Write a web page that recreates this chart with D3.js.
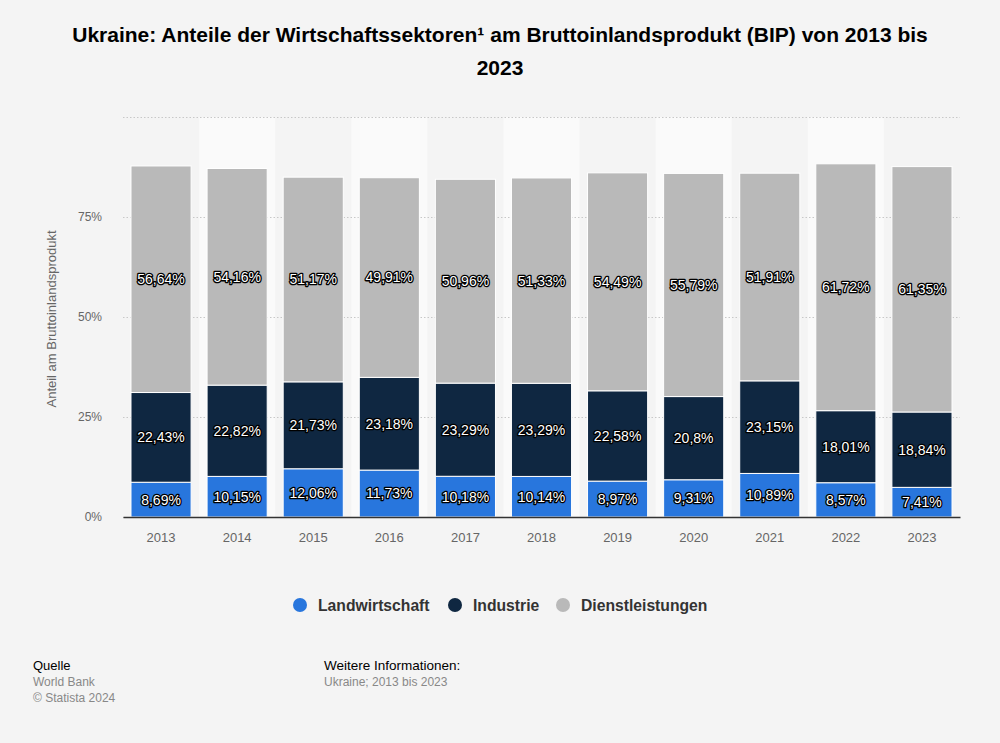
<!DOCTYPE html>
<html>
<head>
<meta charset="utf-8">
<script src="https://cdn.jsdelivr.net/npm/d3@7"></script>
<style>
  body { margin: 0; background: #f4f4f4; }
  svg { font-family: "Liberation Sans", Arial, sans-serif; display: block; }
  .lbl { fill: #fff; stroke: #000; stroke-width: 2.6px; paint-order: stroke; stroke-linejoin: round; font-size: 14px; }
</style>
</head>
<body>
<svg id="chart" width="1000" height="743"></svg>
<script>
// years and sector shares (percent of GDP)
var years = ["2013","2014","2015","2016","2017","2018","2019","2020","2021","2022","2023"];
var landwirtschaft = [8.69, 10.15, 12.06, 11.73, 10.18, 10.14, 8.97, 9.31, 10.89, 8.57, 7.41];
var industrie = [22.43, 22.82, 21.73, 23.18, 23.29, 23.29, 22.58, 20.8, 23.15, 18.01, 18.84];
var dienstleistungen = [56.64, 54.16, 51.17, 49.91, 50.96, 51.33, 54.49, 55.79, 51.91, 61.72, 61.35];
var seriesNames = ["Landwirtschaft", "Industrie", "Dienstleistungen"];
var seriesColors = ["#2876dd", "#0f2741", "#b9b9b9"];
var yTicks = [0, 25, 50, 75, 100];

var svg = d3.select("#chart");
var plotLeft = 123, plotRight = 960, plotTop = 117, plotBottom = 517;

// build rows for stacking
var rows = years.map(function(y, i){
	return { year: y, Landwirtschaft: landwirtschaft[i], Industrie: industrie[i], Dienstleistungen: dienstleistungen[i] };
});

var x = d3.scaleBand().domain(years).range([plotLeft, plotRight]).paddingInner(0.21).paddingOuter(0.105);
var xBand = d3.scaleBand().domain(years).range([plotLeft, plotRight]);
var y = d3.scaleLinear().domain([0, 100]).range([plotBottom, plotTop]);
var color = d3.scaleOrdinal().domain(seriesNames).range(seriesColors);

// title
svg.append("text").attr("x", 500).attr("y", 42).attr("text-anchor", "middle")
	.attr("font-size", 21).attr("font-weight", "bold").attr("fill", "#000")
	.text("Ukraine: Anteile der Wirtschaftssektoren¹ am Bruttoinlandsprodukt (BIP) von 2013 bis");
svg.append("text").attr("x", 500).attr("y", 75).attr("text-anchor", "middle")
	.attr("font-size", 21).attr("font-weight", "bold").attr("fill", "#000")
	.text("2023");

// alternating column backgrounds
svg.append("g").selectAll("rect")
	.data(years.filter(function(d, i){ return i % 2 == 1; }))
	.enter().append("rect")
	.attr("x", function(d){ return xBand(d); })
	.attr("width", xBand.bandwidth())
	.attr("y", plotTop)
	.attr("height", plotBottom - plotTop)
	.attr("fill", "#fafafa");

// grid
var yAxis = d3.axisLeft(y).tickValues(yTicks).tickSize(-(plotRight - plotLeft)).tickFormat(function(d){ return d == 100 ? "" : d + "%"; });
var gy = svg.append("g").attr("transform", "translate(" + plotLeft + ",0)").call(yAxis);
gy.select(".domain").remove();
gy.selectAll(".tick line").attr("stroke", "#c8c8c8").attr("stroke-dasharray", "1.5,2");
gy.selectAll(".tick text").attr("x", -21).attr("fill", "#666").attr("font-size", 12).attr("font-family", "Liberation Sans, Arial, sans-serif");

// y axis title
svg.append("text").attr("transform", "translate(56,319) rotate(-90)")
	.attr("text-anchor", "middle").attr("font-size", 13).attr("fill", "#666")
	.text("Anteil am Bruttoinlandsprodukt");

// stacked bars
var stacked = d3.stack().keys(seriesNames)(rows);
var layers = svg.append("g").selectAll("g").data(stacked).enter().append("g")
	.attr("fill", function(d){ return color(d.key); });
layers.selectAll("rect").data(function(d){ return d; }).enter().append("rect")
	.attr("x", function(d){ return x(d.data.year); })
	.attr("width", x.bandwidth())
	.attr("y", function(d){ return y(d[1]); })
	.attr("height", function(d){ return y(d[0]) - y(d[1]); })
	.attr("stroke", "#fff").attr("stroke-width", 1);

// value labels
layers.selectAll("text").data(function(d){ return d; }).enter().append("text")
	.attr("class", "lbl")
	.attr("x", function(d){ return x(d.data.year) + x.bandwidth() / 2; })
	.attr("y", function(d){ return (y(d[0]) + y(d[1])) / 2; })
	.attr("dy", "0.35em")
	.attr("text-anchor", "middle")
	.text(function(d){ return String(+(d[1] - d[0]).toFixed(2)).replace(".", ",") + "%"; });

// x axis
var xAxis = d3.axisBottom(xBand).tickSize(0).tickPadding(16);
var gx = svg.append("g").attr("transform", "translate(0," + plotBottom + ")").call(xAxis);
gx.select(".domain").attr("stroke", "#333").attr("stroke-width", 1.5);
gx.selectAll(".tick text").attr("fill", "#666").attr("font-size", 13).attr("font-family", "Liberation Sans, Arial, sans-serif");

// legend
var legendX = [300, 455, 563];
var lg = svg.append("g").selectAll("g").data(seriesNames).enter().append("g")
	.attr("transform", function(d, i){ return "translate(" + legendX[i] + ",605)"; });
lg.append("circle").attr("r", 7).attr("fill", function(d){ return color(d); });
lg.append("text").attr("x", 18).attr("dy", "0.35em").attr("font-size", 15.7).attr("font-weight", "bold").attr("fill", "#333")
	.text(function(d){ return d; });

// footer
svg.append("text").attr("x", 33).attr("y", 670).attr("font-size", 13).attr("fill", "#000").text("Quelle");
svg.append("text").attr("x", 33).attr("y", 686).attr("font-size", 12).attr("fill", "#888").text("World Bank");
svg.append("text").attr("x", 33).attr("y", 702).attr("font-size", 12).attr("fill", "#888").text("© Statista 2024");
svg.append("text").attr("x", 324).attr("y", 670).attr("font-size", 13.5).attr("fill", "#000").text("Weitere Informationen:");
svg.append("text").attr("x", 324).attr("y", 686).attr("font-size", 12).attr("fill", "#888").text("Ukraine; 2013 bis 2023");
</script>
</body>
</html>
